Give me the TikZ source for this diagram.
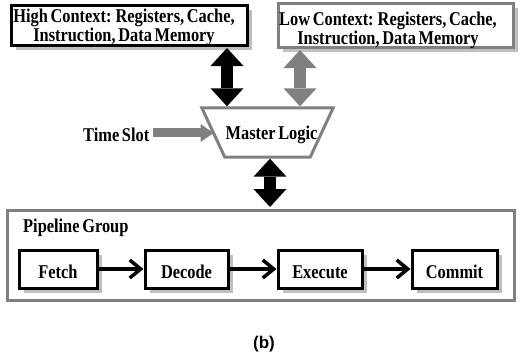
\documentclass[tikz,border=0pt]{standalone}
\usepackage{fontspec}
\setmainfont{Liberation Serif}[FakeStretch=0.84,WordSpace=0.65]
\newfontfamily\capfont{Liberation Sans}
\usetikzlibrary{arrows.meta,shadows,calc}
\definecolor{edgegray}{HTML}{808080}
\definecolor{shadegray}{HTML}{BFBFBF}
\tikzset{
  lbl/.style={font=\bfseries\fontsize{19.5}{17}\selectfont, inner sep=0pt},
  ctxtext/.style={lbl, align=center},
  boxshade/.style={drop shadow={shadow xshift=5pt,shadow yshift=-5pt,fill=shadegray,opacity=1}},
  ctxbox/.style={draw, line width=3pt, fill=white, inner sep=0pt, boxshade},
  stagebox/.style={lbl, draw=black, line width=3pt, fill=white, minimum height=38pt,
    text height=18pt, text depth=0pt, boxshade},
  groupbox/.style={draw=edgegray, line width=3pt, inner sep=0pt},
  duplex/.style={line width=12pt, shorten <=1.5pt, shorten >=1.5pt,
    {Triangle[width=33pt,length=18pt,line width=0pt]}-{Triangle[width=33pt,length=18pt,line width=0pt]}},
  feed/.style={draw=edgegray, line width=9pt, shorten <=4pt,
    -{Triangle[width=18pt,length=13pt,line width=0pt]}},
  flow/.style={line width=3.5pt, -{Straight Barb[length=11pt,width=18pt]}},
}
\begin{document}
\begin{tikzpicture}[x=1pt,y=-1pt]
\useasboundingbox (0,0) rectangle (520,360);

% context stores
\node[ctxbox, draw=black, minimum width=236pt, minimum height=40pt] (hi) at (129,25) {};
\node[ctxtext] (hitxt) at (124,27) {High Context: Registers, Cache,\\Instruction, Data Memory};
\node[ctxbox, draw=edgegray, minimum width=235pt, minimum height=44pt] (lo) at (395.5,25) {};
\node[ctxtext] (lotxt) at (388,30) {Low Context: Registers, Cache,\\Instruction, Data Memory};

% master logic (inverted trapezoid)
\node[lbl, minimum width=131pt, minimum height=49pt, text height=14pt, text depth=0pt]
  (ml) at (267.5,132.5) {\hspace*{8pt}Master Logic};
\draw[draw=edgegray, line width=3pt]
  (ml.north west) -- (ml.north east) -- ([xshift=-23pt]ml.south east)
  -- ([xshift=23pt]ml.south west) -- cycle;

% time slot input
\node[lbl, anchor=base west] (ts) at (83,141) {Time Slot};
\coordinate (tsend) at ($(ml.north west)!0.51!([xshift=23pt]ml.south west)$);
\draw[feed] (ts.east |- tsend) -- (tsend);

% pipeline group
\node[groupbox, minimum width=507pt, minimum height=90pt] (pg) at (260.5,255) {};
\node[lbl, anchor=base west] (pgl) at (23,232) {Pipeline Group};

\node[stagebox, minimum width=78pt] (fe) at (58,269) {Fetch};
\node[stagebox, minimum width=83pt] (de) at (186.5,269) {Decode};
\node[stagebox, minimum width=84pt] (ex) at (320,269) {Execute};
\node[stagebox, minimum width=85pt] (co) at (454.5,269) {Commit};
\draw[flow] (fe) -- (de);
\draw[flow] (de) -- (ex);
\draw[flow] (ex) -- (co);

% two-way links
\draw[duplex] ([xshift=98pt]hi.south) -- ([xshift=98pt]hi.south |- ml.north);
\draw[duplex, edgegray] ([xshift=-95.5pt]lo.south) -- ([xshift=-95.5pt]lo.south |- ml.north);
\draw[duplex] ([xshift=2.5pt]ml.south) -- ([xshift=2.5pt]ml.south |- pg.north);

\node[font=\capfont\bfseries\fontsize{17}{17}\selectfont, anchor=base, inner sep=0pt] (cap) at (264,348) {(b)};
\end{tikzpicture}
\end{document}
